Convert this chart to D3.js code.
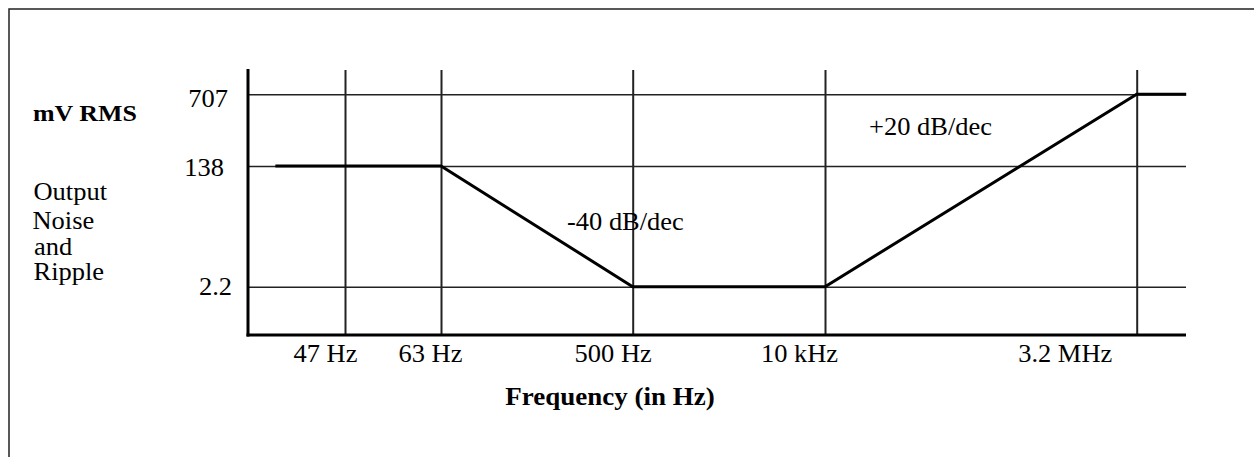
<!DOCTYPE html>
<html>
<head>
<meta charset="utf-8">
<script src="https://cdn.jsdelivr.net/npm/d3@7"></script>
<style>
  html, body { margin: 0; padding: 0; background: #fff; }
  svg { display: block; }
  text { font-family: "Liberation Serif", "Times New Roman", serif; fill: #000; }
</style>
</head>
<body>
<svg id="chart" width="1254" height="457"></svg>
<script>
// Break frequencies (Hz) marked on the frequency axis
const freqTicks = [47, 63, 500, 10000, 3.2e6];
const freqTickLabels = ["47 Hz", "63 Hz", "500 Hz", "10 kHz", "3.2 MHz"];

// Output noise and ripple levels (mV RMS) marked on the vertical axis
const levelTicks = [2.2, 138, 707];
const levelTickLabels = ["2.2", "138", "707"];

// Piecewise response: frequency (Hz) and level (mV RMS)
const responseFreq = [38, 63, 500, 10000, 3.2e6, 8e6];
const responseLevel = [138, 138, 2.2, 2.2, 707, 707];

// Slope annotations
const slopeNotes = ["-40 dB/dec", "+20 dB/dec"];

const svg = d3.select("#chart");
const W = 1254, H = 457;

// Plot frame
const plotLeft = 248, plotRight = 1186, plotTop = 69, plotBottom = 335;

// Type is set slightly wide
const FONT = 24.5, WIDEN = 1.08;
function widen(sel) {
  sel.each(function () {
    const len = this.getComputedTextLength();
    d3.select(this)
      .attr("textLength", len * WIDEN)
      .attr("lengthAdjust", "spacingAndGlyphs");
  });
}

// Schematic (piecewise logarithmic) scales
const x = d3.scaleLog()
  .domain(freqTicks)
  .range([345, 441, 632.7, 825, 1136.7]);
const y = d3.scaleLog()
  .domain(levelTicks)
  .range([286.7, 166, 94.3]);

// Outer border
svg.append("rect")
  .attr("x", 9).attr("y", 9)
  .attr("width", W + 20).attr("height", H + 20)
  .attr("fill", "none").attr("stroke", "#222").attr("stroke-width", 1.5);

// Vertical grid (frequency axis)
const xAxis = d3.axisBottom(x)
  .tickValues(freqTicks)
  .tickSize(-(plotBottom - plotTop - 1))
  .tickFormat((d, i) => freqTickLabels[i]);
const labelDx = [-20, -11, -20, -26, -72];
const gx = svg.append("g").attr("transform", `translate(0,${plotBottom})`).call(xAxis);
gx.select(".domain").remove();
gx.selectAll(".tick line").attr("stroke", "#222").attr("stroke-width", 2);
gx.selectAll(".tick text")
  .attr("y", 27)
  .attr("dy", 0)
  .attr("dx", (d, i) => labelDx[i])
  .attr("fill", "#000")
  .style("font-size", FONT + "px")
  .style("font-family", "Liberation Serif")
  .call(widen);

// Horizontal grid (level axis)
const yAxis = d3.axisLeft(y)
  .tickValues(levelTicks)
  .tickSize(-(plotRight - plotLeft))
  .tickFormat((d, i) => levelTickLabels[i]);
const yLabelDx = [4, -4, 0];
const gy = svg.append("g").attr("transform", `translate(${plotLeft},0)`).call(yAxis);
gy.select(".domain").remove();
gy.selectAll(".tick line").attr("stroke", "#222").attr("stroke-width", 1.5);
gy.selectAll(".tick text")
  .attr("x", -20)
  .attr("dy", (d, i) => [8, 9, 12][i])
  .attr("dx", (d, i) => yLabelDx[i])
  .attr("fill", "#000")
  .style("font-size", FONT + "px")
  .style("font-family", "Liberation Serif")
  .call(widen);

// Axis lines
svg.append("line")
  .attr("x1", plotLeft).attr("x2", plotLeft).attr("y1", plotTop).attr("y2", plotBottom + 1.5)
  .attr("stroke", "#000").attr("stroke-width", 3);
svg.append("line")
  .attr("x1", plotLeft - 1.5).attr("x2", plotRight).attr("y1", plotBottom).attr("y2", plotBottom)
  .attr("stroke", "#000").attr("stroke-width", 3);

// Response curve
const line = d3.line()
  .x((d, i) => x(responseFreq[i]))
  .y((d, i) => y(responseLevel[i]));
svg.append("path")
  .datum(responseFreq)
  .attr("d", line)
  .attr("fill", "none")
  .attr("stroke", "#000")
  .attr("stroke-width", 3)
  .attr("stroke-linejoin", "miter");

// Slope annotations
svg.append("text").attr("x", 567).attr("y", 230)
  .style("font-size", FONT + "px").text(slopeNotes[0]).call(widen);
svg.append("text").attr("x", 869).attr("y", 135)
  .style("font-size", FONT + "px").text(slopeNotes[1]).call(widen);

// Axis titles
svg.append("text").attr("x", 610).attr("y", 405)
  .attr("text-anchor", "middle")
  .style("font-size", "25px").style("font-weight", "bold")
  .text("Frequency (in Hz)").call(widen);

svg.append("text").attr("x", 33).attr("y", 121)
  .style("font-size", "24px").style("font-weight", "bold")
  .text("mV RMS").call(widen);

const ylabLines = ["Output", "Noise", "and", "Ripple"];
const ylabX = [33.5, 32.5, 34, 33.5];
const ylabY = [200, 229, 255, 280];
svg.append("g").selectAll("text")
  .data(ylabLines)
  .join("text")
  .attr("x", (d, i) => ylabX[i])
  .attr("y", (d, i) => ylabY[i])
  .style("font-size", FONT + "px")
  .text(d => d)
  .call(widen);
</script>
</body>
</html>
